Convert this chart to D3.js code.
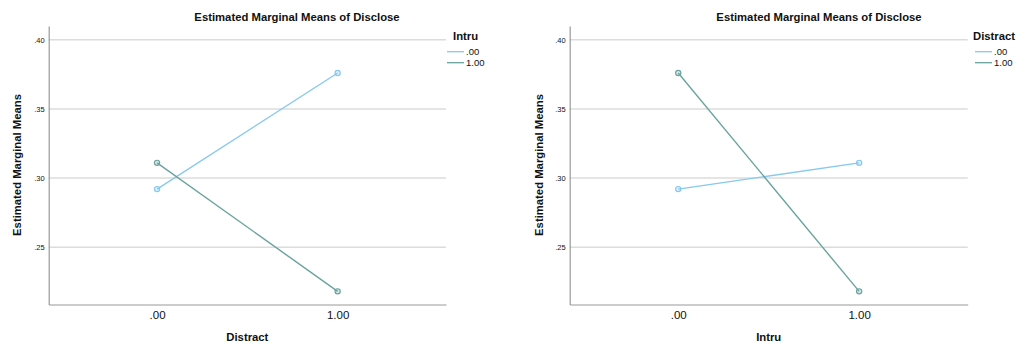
<!DOCTYPE html>
<html>
<head>
<meta charset="utf-8">
<script src="https://cdn.jsdelivr.net/npm/d3@7"></script>
<style>
  html, body { margin: 0; padding: 0; background: #fff; }
  svg { display: block; }
  text { font-family: "Liberation Sans", Arial, sans-serif; fill: #111; }
</style>
</head>
<body>
<svg id="chart" width="1023" height="345"></svg>
<script>
// Factor levels and estimated marginal means of Disclose
const levels = [0, 1];
const levelLabels = [".00", "1.00"];
// Grouped by Intru, across Distract .00 / 1.00
const intru0 = [0.292, 0.376];   // Intru = .00
const intru1 = [0.311, 0.218];   // Intru = 1.00
// Same cells grouped by Distract, across Intru .00 / 1.00
const distract0 = [0.292, 0.311]; // Distract = .00
const distract1 = [0.376, 0.218]; // Distract = 1.00
const yTicks = [0.25, 0.30, 0.35, 0.40];
const seriesColors = ["#86c8ef", "#6aa39e"];

const panels = [
  { x0: 48.7, x1: 446, xTitle: "Distract", legendTitle: "Intru",
    series: [intru0, intru1], titleX: 297, yTitleX: 17,
    legendX: 447, legendTitleX: 453 },
  { x0: 569.7, x1: 967.7, xTitle: "Intru", legendTitle: "Distract",
    series: [distract0, distract1], titleX: 819, yTitleX: 539,
    legendX: 975, legendTitleX: 973 }
];

const svg = d3.select("#chart");
const plotTop = 26, plotBottom = 304.5;

panels.forEach(p => {
  const g = svg.append("g");
  const x = d3.scaleLinear().domain([-0.6, 1.6]).range([p.x0, p.x1]);
  const y = d3.scaleLinear().domain([0.2085, 0.41]).range([plotBottom, plotTop]);

  // gridlines
  g.selectAll("line.grid").data(yTicks).join("line")
    .attr("class", "grid")
    .attr("x1", p.x0).attr("x2", p.x1)
    .attr("y1", d => y(d)).attr("y2", d => y(d))
    .attr("stroke", "#dcdcdc").attr("stroke-width", 1.5);

  // y axis
  const yAxis = d3.axisLeft(y).tickValues(yTicks).tickSize(0).tickPadding(4)
    .tickFormat(d => d3.format(".2f")(d).replace(/^0/, ""));
  const ya = g.append("g").attr("transform", `translate(${p.x0},0)`).call(yAxis);
  ya.select(".domain").attr("stroke", "#9a9a9a").attr("stroke-width", 1.2);
  ya.selectAll("text").attr("font-size", 7.5).attr("fill", "#333")
    .style("font-family", "'Liberation Sans', Arial, sans-serif");

  // x axis
  const xAxis = d3.axisBottom(x).tickValues(levels).tickSize(0).tickPadding(6)
    .tickFormat((d, i) => levelLabels[i]);
  const xa = g.append("g").attr("transform", `translate(0,${plotBottom})`).call(xAxis);
  xa.select(".domain").attr("stroke", "#9a9a9a").attr("stroke-width", 1.2);
  xa.selectAll("text").attr("font-size", 11.5).attr("fill", "#333")
    .style("font-family", "'Liberation Sans', Arial, sans-serif");

  // title
  g.append("text").attr("x", p.titleX).attr("y", 21).attr("text-anchor", "middle")
    .attr("font-size", 11.3).attr("font-weight", "bold").text("Estimated Marginal Means of Disclose");

  // axis titles
  g.append("text").attr("x", (p.x0 + p.x1) / 2).attr("y", 341).attr("text-anchor", "middle")
    .attr("font-size", 11.3).attr("font-weight", "bold").text(p.xTitle);
  g.append("text").attr("transform", `translate(${p.yTitleX + 4},165) rotate(-90)`)
    .attr("text-anchor", "middle").attr("font-size", 11.3).attr("font-weight", "bold")
    .text("Estimated Marginal Means");

  // series lines and markers
  const line = d3.line().x((d, i) => x(levels[i])).y(d => y(d));
  p.series.forEach((vals, s) => {
    g.append("path").datum(vals).attr("d", line).attr("fill", "none")
      .attr("stroke", seriesColors[s]).attr("stroke-width", 1.4);
    g.selectAll(null).data(vals).join("circle")
      .attr("cx", (d, i) => x(levels[i])).attr("cy", d => y(d)).attr("r", 2.6)
      .attr("fill", seriesColors[s]).attr("fill-opacity", 0.25)
      .attr("stroke", seriesColors[s]).attr("stroke-width", 1.2);
  });

  // legend
  g.append("text").attr("x", p.legendTitleX).attr("y", 40)
    .attr("font-size", 11.3).attr("font-weight", "bold").text(p.legendTitle);
  levelLabels.forEach((lab, s) => {
    const ly = 51.7 + s * 11;
    g.append("line").attr("x1", p.legendX).attr("x2", p.legendX + 17)
      .attr("y1", ly).attr("y2", ly).attr("stroke", seriesColors[s]).attr("stroke-width", 1.3);
    g.append("text").attr("x", p.legendX + 19).attr("y", ly + 3.5)
      .attr("font-size", 9.5).attr("fill", "#333").text(lab);
  });
});
</script>
</body>
</html>
